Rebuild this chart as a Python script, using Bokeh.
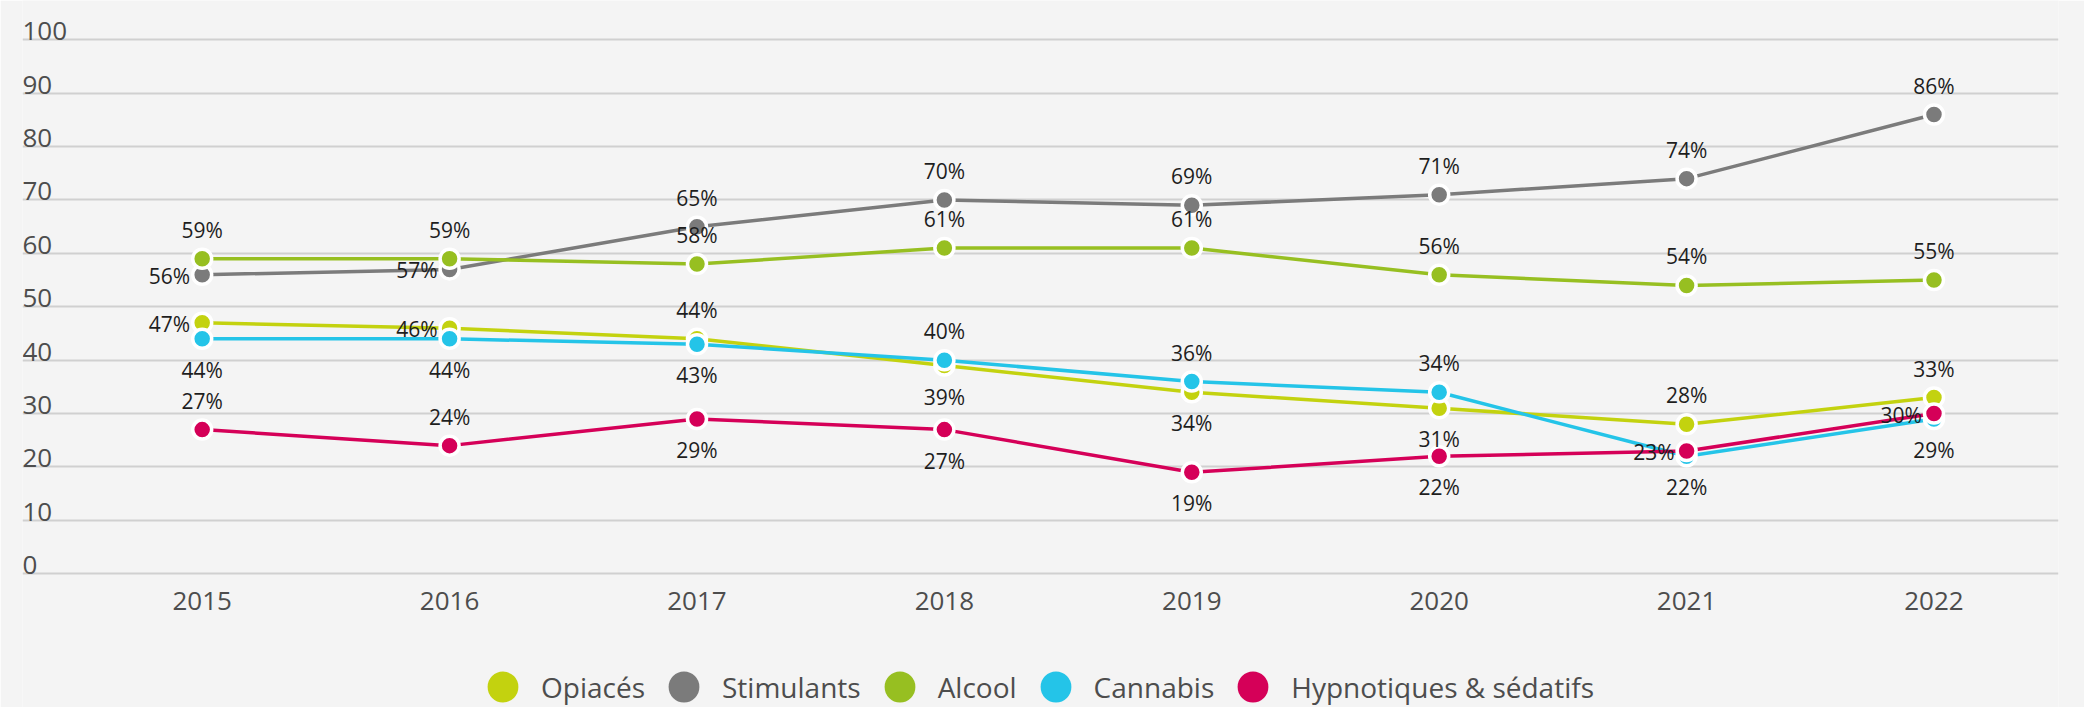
from bokeh.plotting import figure
from bokeh.models import FixedTicker, Legend, LegendItem, Range1d, Grid
from bokeh.core.properties import value
from bokeh.embed import file_html
from bokeh.resources import INLINE

# ---------------- data ----------------
years = [2015, 2016, 2017, 2018, 2019, 2020, 2021, 2022]
series_names = ["Opiacés", "Stimulants", "Alcool", "Cannabis", "Hypnotiques & sédatifs"]
opiaces = [47, 46, 44, 39, 34, 31, 28, 33]
stimulants = [56, 57, 65, 70, 69, 71, 74, 86]
alcool = [59, 59, 58, 61, 61, 56, 54, 55]
cannabis = [44, 44, 43, 40, 36, 34, 22, 29]
hypnotiques = [27, 24, 29, 27, 19, 22, 23, 30]
y_ticks = [0, 10, 20, 30, 40, 50, 60, 70, 80, 90, 100]

# ---------------- styles ----------------
colors = ["#c3d20f", "#7b7b7b", "#97bf21", "#24c4e8", "#d50058"]
label_place = [
    ["left", "left", "above", "below", "below", "below", "above", "above"],
    ["left", "left", "above", "above", "above", "above", "above", "above"],
    ["above"] * 8,
    ["below", "below", "below", "above", "above", "above", "below", "below"],
    ["above", "above", "below", "below", "below", "below", "left", "left"],
]
FONT = "Open Sans"
BG = "#f4f4f4"

W, H = 2084, 707
x0, x1 = 2014.2737, 2022.5033
y0, y1 = -25.04, 107.36

p = figure(width=W, height=H, output_backend="svg", toolbar_location=None,
           x_range=Range1d(x0, x1), y_range=Range1d(y0, y1),
           y_axis_location=None,
           min_border_left=22, min_border_right=26, min_border_top=0, min_border_bottom=0,
           background_fill_color=BG, border_fill_color=BG, outline_line_color=None)

p.xgrid.visible = False
for g in p.ygrid:
    g.visible = False
p.add_layout(Grid(dimension=1, ticker=FixedTicker(ticks=y_ticks),
                  grid_line_color="#d0d0d0", grid_line_width=2), "center")

ax = p.xaxis[0]
ax.fixed_location = 0
ax.ticker = FixedTicker(ticks=years)
ax.axis_line_color = None
ax.major_tick_line_color = None
ax.minor_tick_line_color = None
ax.major_tick_out = 0
ax.major_tick_in = 0
ax.major_label_standoff = 18
ax.major_label_text_font = FONT
ax.major_label_text_font_size = "26px"
ax.major_label_text_color = "#4d4d4d"

# y tick labels, above gridlines, left aligned
p.text(x=[x0] * len(y_ticks), y=y_ticks, text=[str(t) for t in y_ticks],
       text_font=value(FONT), text_font_size="26px", text_color="#4d4d4d",
       text_align="left", text_baseline="alphabetic", y_offset=-8.6)

all_values = [opiaces, stimulants, alcool, cannabis, hypnotiques]

legend_renderers = []
for vals, col in zip(all_values, colors):
    p.line(years, vals, line_color=col, line_width=3.5)
    p.scatter(years, vals, size=19, fill_color=col, line_color="white", line_width=3.5)
    legend_renderers.append(p.scatter(years, vals, size=0, fill_color=col, line_color=None))

offsets = {
    "above": dict(text_align="center", x_offset=0, y_offset=-29),
    "below": dict(text_align="center", x_offset=0, y_offset=31),
    "left": dict(text_align="right", x_offset=-12, y_offset=1),
}
for vals, places in zip(all_values, label_place):
    for kind, opts in offsets.items():
        idx = [i for i, k in enumerate(places) if k == kind]
        if not idx:
            continue
        p.text(x=[years[i] for i in idx], y=[vals[i] for i in idx],
               text=[f"{vals[i]}%" for i in idx],
               text_font=value(FONT), text_font_size="21px", text_color="#1e1e1e",
               text_baseline="middle", **opts)

legend = Legend(
    items=[LegendItem(label=n, renderers=[r]) for n, r in zip(series_names, legend_renderers)],
    orientation="horizontal", location=(442, -18),
    glyph_width=77, glyph_height=77, label_standoff=-2, spacing=-2,
    padding=0, margin=0, border_line_color=None, background_fill_alpha=0,
    label_text_font=FONT, label_text_font_size="28px", label_text_color="#4d4d4d",
)
p.add_layout(legend, "center")

open("out.html", "w").write(file_html(p, INLINE))
